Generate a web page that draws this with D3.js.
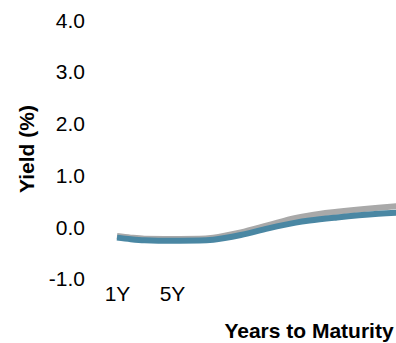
<!DOCTYPE html>
<html>
<head>
<meta charset="utf-8">
<script src="https://cdn.jsdelivr.net/npm/d3@7"></script>
<style>
  html, body { margin: 0; padding: 0; background: #ffffff; overflow: hidden; }
  svg { display: block; }
  text { font-family: Arial, "Liberation Sans", sans-serif; fill: #000; }
</style>
</head>
<body>
<svg id="chart" width="396" height="343"></svg>
<script>
// Maturities in years
const maturities = [1, 2, 3, 5, 7, 8, 10, 12, 14, 15, 17, 20, 22, 25, 30];
// Previous curve (grey)
const previousYields = [-0.17, -0.20, -0.22, -0.225, -0.22, -0.20, -0.10, 0.04, 0.18, 0.23, 0.30, 0.38, 0.42, 0.46, 0.51];
// Current curve (blue)
const currentYields = [-0.20, -0.23, -0.25, -0.26, -0.255, -0.24, -0.15, -0.02, 0.09, 0.13, 0.19, 0.26, 0.29, 0.32, 0.36];
const yTicks = [-1, 0, 1, 2, 3, 4];
const xTicks = [1, 5];
const xTitle = "Years to Maturity";
const yTitle = "Yield (%)";

const svg = d3.select("#chart");

const x = d3.scaleLinear().domain([1, 30]).range([117, 515.75]);
const y = d3.scaleLinear().domain([-1, 4]).range([279, 20.5]);

// Y axis
const yAxis = svg.append("g")
  .attr("transform", "translate(93,0)")
  .call(d3.axisLeft(y).tickValues(yTicks).tickSize(0).tickPadding(8)
    .tickFormat(d => d.toFixed(1)));
yAxis.select(".domain").remove();
yAxis.selectAll("text")
  .style("font-family", 'Arial, "Liberation Sans", sans-serif')
  .style("font-size", "21px")
  .attr("fill", "#000");

// X axis
const xAxis = svg.append("g")
  .attr("transform", "translate(0,278)")
  .call(d3.axisBottom(x).tickValues(xTicks).tickSize(0).tickPadding(8)
    .tickFormat(d => d + "Y"));
xAxis.select(".domain").remove();
xAxis.selectAll("text")
  .style("font-family", 'Arial, "Liberation Sans", sans-serif')
  .style("font-size", "21px")
  .attr("fill", "#000");

// Lines
const line = d3.line()
  .x((d, i) => x(maturities[i]))
  .y(d => y(d))
  .curve(d3.curveMonotoneX);

svg.append("path")
  .datum(previousYields)
  .attr("d", line)
  .attr("fill", "none")
  .attr("stroke", "#a9a9a9")
  .attr("stroke-width", 6);

svg.append("path")
  .datum(currentYields)
  .attr("d", line)
  .attr("fill", "none")
  .attr("stroke", "#4a87a3")
  .attr("stroke-width", 6);

// Titles
svg.append("text")
  .attr("transform", "translate(34,149) rotate(-90)")
  .attr("text-anchor", "middle")
  .style("font-size", "21px")
  .style("font-weight", "bold")
  .text(yTitle);

svg.append("text")
  .attr("x", 309)
  .attr("y", 338)
  .attr("text-anchor", "middle")
  .style("font-size", "21px")
  .style("font-weight", "bold")
  .text(xTitle);
</script>
</body>
</html>
